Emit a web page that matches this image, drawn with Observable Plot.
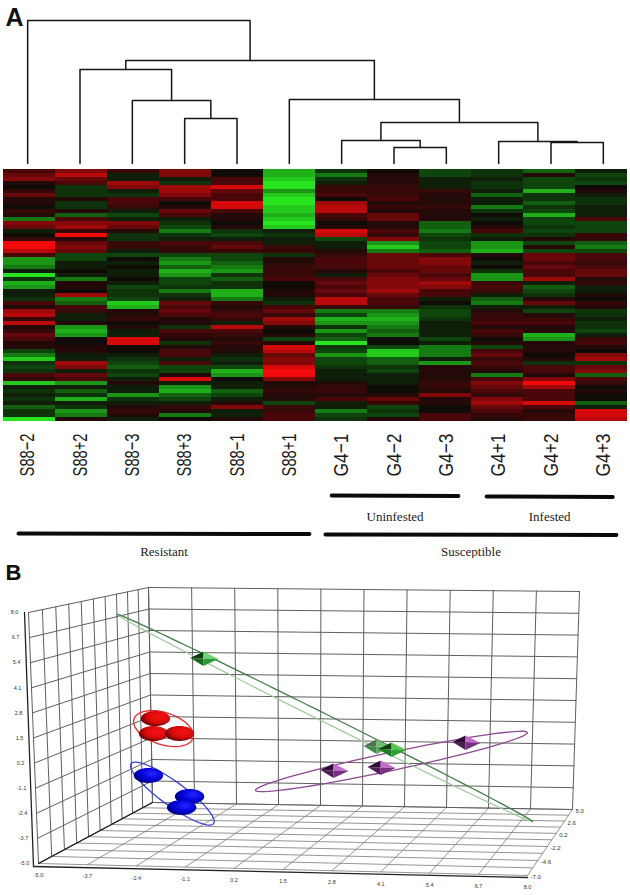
<!DOCTYPE html>
<html><head><meta charset="utf-8">
<script src="https://cdn.jsdelivr.net/npm/d3@7"></script>
<script src="https://cdn.jsdelivr.net/npm/@observablehq/plot@0.6"></script>
<style>html,body{margin:0;padding:0;background:#fff;overflow:hidden}svg{display:block}</style>
</head><body><div id="chart"></div>
<script>
// ---------- Panel A data ----------
const samples = ["S88−2","S88+2","S88−3","S88+3","S88−1","S88+1","G4−1","G4−2","G4−3","G4+1","G4+2","G4+3"];
// Dendrogram: a node number below 12 is a sample, 12 and above is an earlier merge
const mergeLeft   = [3, 2, 1, 7, 6, 10, 9, 16, 5, 14, 0];
const mergeRight  = [4, 12, 13, 8, 15, 11, 17, 18, 19, 20, 21];
const mergeHeight = [.315,.44,.657,.112,.161,.147,.154,.287,.448,.72,1];

// Heat map: 63 genes per sample, + red, − green
const S88m2=[3,4,5,1,0,2,4,1,1,0,2,1,-5,5,4,-1,0,2,9,9,7,3,-6,-6,-5,-1,-9,-2,-7,-6,-1,-1,-2,3,1,6,7,2,7,1,2,4,3,1,1,-3,-5,-8,-2,-3,-2,3,2,-8,-1,-2,-1,-2,-1,-4,-2,-2,-9];
const S88p2=[5,7,4,3,-2,-2,-2,1,-2,-2,1,-4,3,5,6,2,9,1,4,5,4,-3,-3,-1,-1,0,-1,-5,1,1,0,6,-5,-4,3,2,-1,-1,1,-6,-7,-6,0,0,1,1,-1,-1,6,5,-1,4,3,-6,-1,-4,-2,-7,-1,-2,-6,-5,1];
const S88m3=[2,-1,-1,6,5,-1,-2,3,3,2,-1,-3,-1,5,4,1,-2,-2,2,2,-1,-3,0,-1,0,-1,-1,0,-1,-3,-2,-2,-3,-8,-7,1,1,2,0,1,-1,-1,8,8,0,0,-1,-2,-3,-4,-2,-3,-1,1,-1,-1,-6,-2,-1,1,2,1,-1];
const S88p3=[5,5,-1,-2,6,6,5,3,0,1,4,3,-1,-2,-3,-5,-2,-1,3,2,2,-3,-5,-6,-4,-7,-6,-3,-3,-2,-5,-2,-1,4,3,4,3,1,1,-2,3,2,1,-2,1,3,3,-1,3,-3,-3,1,8,-1,-6,-7,-4,-3,-1,2,1,-5,0];
const S88m1=[0,0,3,3,8,4,3,3,8,8,3,1,1,0,1,-2,-3,-1,3,4,2,-3,-3,-4,-5,-6,-2,-4,-2,-2,-7,-7,-5,2,1,2,3,2,-1,7,3,2,1,2,1,1,-1,-2,-1,-3,-7,-6,0,-1,-1,-4,-3,-1,1,5,-1,-1,1];
const S88p1=[-7,-7,-8,-9,-9,-6,-8,-9,-9,-8,-8,-7,-8,-9,-8,-1,-2,-1,-1,2,2,-2,1,1,2,2,2,3,0,0,1,1,-1,-2,3,4,2,6,5,1,0,1,-3,1,8,7,4,5,5,8,9,9,5,1,1,2,1,1,-3,2,2,3,3];
const G4m1=[-2,-5,-2,-1,2,2,3,0,6,7,7,3,2,0,1,8,7,-3,-1,-1,1,2,3,3,3,1,-1,3,4,3,4,3,7,7,2,-5,-3,-7,-6,-2,-6,-3,-4,-9,-2,-3,-6,-3,-3,-2,-1,-1,-1,1,2,2,1,3,-1,-1,-5,-3,-2];
const G4m2=[0,1,1,1,2,2,2,3,1,2,1,4,4,1,1,3,2,5,-6,-8,-5,4,4,4,4,3,4,5,5,5,6,4,3,3,2,-5,-6,-7,-6,-5,-4,-5,0,0,-3,-8,-8,-4,-4,-2,-3,-1,-1,-1,0,0,1,4,2,-3,-2,-3,1];
const G4m3=[-3,-3,-1,-1,-1,2,1,1,1,2,1,1,1,-4,-4,-5,-3,-2,-3,-3,-4,3,5,5,4,4,3,4,6,5,3,3,-1,0,-2,-3,-3,-2,-1,-1,-1,-1,-3,-1,-5,-5,-5,-1,-6,1,1,1,1,2,2,1,5,1,1,0,0,3,3];
const G4p1=[-2,-2,-1,-2,-2,-1,-4,-1,-1,-5,-2,0,-1,0,1,3,-2,-1,-6,-6,-7,1,0,-1,0,-2,-6,-6,2,3,2,-1,-4,-5,-1,1,2,2,3,1,3,2,0,1,-3,3,4,2,3,2,1,-5,3,5,4,3,2,5,6,4,3,2,1];
const G4p2=[-4,1,-3,-3,-3,-7,-2,-2,-4,-2,-3,-7,-3,-3,-2,-3,-2,1,-3,1,-3,4,4,3,4,3,3,6,-1,-4,-3,-2,1,4,-1,-3,1,2,3,1,1,-7,-6,1,1,1,0,1,-2,3,3,1,5,9,6,3,3,3,8,3,1,2,2];
const G4p3=[-1,-3,-2,-3,0,1,-1,-2,-2,-1,-1,-1,3,-3,-3,-3,2,2,-4,-5,-3,3,3,2,3,4,4,1,2,-1,-1,1,0,2,1,-2,-2,-1,-2,-2,-3,-1,2,3,1,0,5,6,-2,4,5,-4,3,2,0,1,0,0,-4,-1,8,8,7];
const heatColumns = [S88m2,S88p2,S88m3,S88p3,S88m1,S88p1,G4m1,G4m2,G4m3,G4p1,G4p2,G4p3];

// Annotation bars, in sample positions
const groupNames = ["Uninfested","Infested","Resistant","Susceptible"];
const groupFrom  = [6.31,9.27,0.325,6.19];
const groupTo    = [8.73,11.68,5.885,11.75];

// ---------- Panel B data ----------
const xTicks = ["-5.0","-3.7","-2.4","-1.1","0.2","1.5","2.8","4.1","5.4","6.7","8.0"];
const zTicks = xTicks;
const depthTicks = ["-7.0","-5.8","-4.6","-3.4","-2.2","-1.0","0.2","1.4","2.6","3.8","5.0"];
// Points and group ellipses, read against the grid of the back wall
const sphereGroup = ["red","red","red","blue","blue","blue"];
const sphereX = [-4.86,-4.93,-4.13,-5.11,-3.85,-4.10];
const sphereZ = [0.08,-0.83,-0.80,-3.37,-4.60,-5.27];
const pyramidGroup = ["green","faded","bright","purple","purple","purple"];
const pyramidX = [-3.34,1.95,2.41,4.68,2.08,0.63];
const pyramidZ = [3.74,-1.42,-1.58,-1.10,-2.67,-2.89];
const ringName = ["red","blue","purple","green"];
const ringX = [-4.62,-4.38,2.38,0.33];
const ringZ = [-0.52,-4.44,-2.30,0.25];

// ---------- Panel A: dendrogram ----------
const W = 630, sampleDomain = [0,12];
const nodeX = new Map(samples.map((_,i)=>[i,i+.5]));
const nodeH = new Map(samples.map((_,i)=>[i,0]));
const treeLines = [];
mergeLeft.forEach((l,i)=>{
  const r = mergeRight[i], h = mergeHeight[i], id = 12+i;
  treeLines.push({id,x:nodeX.get(l),h:nodeH.get(l)},{id,x:nodeX.get(l),h},{id,x:nodeX.get(r),h},{id,x:nodeX.get(r),h:nodeH.get(r)});
  nodeX.set(id,(nodeX.get(l)+nodeX.get(r))/2); nodeH.set(id,h);
});
const tree = Plot.plot({
  width:W,height:168,marginLeft:1,marginRight:1,marginTop:20,marginBottom:5,
  style:{fontFamily:"Liberation Sans",background:"#fff"},
  x:{domain:sampleDomain,axis:null},y:{domain:[0,1],axis:null},
  marks:[
    Plot.line(treeLines,{x:"x",y:"h",z:"id",stroke:"#151515",strokeWidth:1.5,curve:"linear"}),
    Plot.text(["A"],{frameAnchor:"top-left",dx:4,dy:-12,lineAnchor:"top",fontSize:25,fontWeight:"bold",fill:"#111"})
  ]
});

// ---------- Panel A: heat map ----------
const heatCells = heatColumns.flatMap((col,j)=>col.map((value,row)=>({sample:samples[j],row,value})));
const heat = Plot.plot({
  width:W,height:253,marginLeft:1,marginRight:1,marginTop:0,marginBottom:0,
  style:{background:"#fff"},
  x:{domain:samples,padding:0,axis:null},
  y:{domain:d3.range(63),padding:0,axis:null},
  color:{type:"linear",domain:[-9,-3,0,3,9],range:["#27e41f","#0e450c","#0f0b07","#4a0709","#f20a0a"]},
  marks:[Plot.cell(heatCells,{x:"sample",y:"row",fill:"value",shapeRendering:"crispEdges"})]
});

// ---------- Panel A: labels and group bars ----------
const groupBarY = [495,496,533,534];
const groupTextY = [516,516,551,551];
const groupBars = groupNames.flatMap((g,i)=>[{g,x:groupFrom[i],y:groupBarY[i]},{g,x:groupTo[i],y:groupBarY[i]+.5}]);
const groupLabels = groupNames.map((g,i)=>({g,x:(groupFrom[i]+groupTo[i])/2,y:groupTextY[i]}));
const labels = Plot.plot({
  width:W,height:137,marginLeft:1,marginRight:1,marginTop:0,marginBottom:0,
  style:{fontFamily:"Liberation Sans",background:"#fff"},
  x:{domain:sampleDomain,axis:null},y:{domain:[421,558],range:[0,137],axis:null},
  marks:[
    Plot.text(samples,{x:(_,i)=>i+.5,y:()=>433,text:d=>d,rotate:-90,textAnchor:"end",fontSize:21,fill:"#1a1a1a"}),
    Plot.line(groupBars,{x:"x",y:"y",z:"g",stroke:"#0a0a0a",strokeWidth:4,strokeLinecap:"round"}),
    Plot.text(groupLabels,{x:"x",y:"y",text:"g",fontFamily:"Liberation Serif",fontSize:13,fill:"#222"})
  ]
});
d3.select(labels).selectAll("text").each(function(){
  const t=this.textContent;
  if(/^(S88|G4)/.test(t)){
    const a=this.getAttribute("transform")||"";
    this.setAttribute("transform",a+` scale(${t.startsWith("S88")?.7:.83},1)`);
  }
});

// ---------- Panel B: 3-D box seen in perspective ----------
const corner = {
  flb:[38,863],frb:[527,875],blb:[152,802],brb:[572,809],
  flt:[28,612],frt:[547,621],blt:[148,587],brt:[579,591]
};
const persp = u => u/(u+(1-u)*.85);
function project(xv,dv,zv){
  const a=(xv+5)/13, u=persp((dv+7)/12), c=(zv+5)/13;
  const mix=(i)=>{
    const f=(p,q)=>p[i]*(1-a)+q[i]*a;
    const front=f(corner.flb,corner.frb)*(1-c)+f(corner.flt,corner.frt)*c;
    const back=f(corner.blb,corner.brb)*(1-c)+f(corner.blt,corner.brt)*c;
    return front*(1-u)+back*u;
  };
  return [mix(0),mix(1)];
}
const seg=(id,p,q,kind)=>[{id,kind,x:p[0],y:p[1]},{id,kind,x:q[0],y:q[1]}];
const xN=xTicks.map(Number), zN=zTicks.map(Number), dN=depthTicks.map(Number);
const grid=[]; let gid=0;
xN.forEach(x=>{
  grid.push(...seg(gid++,project(x,5,-5),project(x,5,8),"wall"));
  grid.push(...seg(gid++,project(x,-7,-5),project(x,5,-5),"floor"));
});
zN.forEach(z=>{
  grid.push(...seg(gid++,project(-5,5,z),project(8,5,z),"wall"));
  grid.push(...seg(gid++,project(-5,-7,z),project(-5,5,z),"wall"));
});
dN.forEach(d=>{
  grid.push(...seg(gid++,project(-5,d,-5),project(-5,d,8),"wall"));
  grid.push(...seg(gid++,project(-5,d,-5),project(8,d,-5),"floor"));
});
const onWall=(x,z)=>project(x,5,z);

function outline(cx,cy,a,b,deg,from=0,to=2*Math.PI,n=72){
  const th=deg*Math.PI/180, pts=[];
  for(let i=0;i<=n;i++){
    const t=from+(to-from)*i/n;
    pts.push({x:cx+a*Math.cos(t)*Math.cos(th)-b*Math.sin(t)*Math.sin(th),
              y:cy+a*Math.cos(t)*Math.sin(th)+b*Math.sin(t)*Math.cos(th)});
  }
  return pts;
}
const ringStyle={red:[31,16,18,"#e8262a"],blue:[51,12,36,"#3a3fd0"],purple:[139,9,-12,"#8c4a92"],green:[232,4,26.5,"#3f7d45"]};
const rings=[];
ringName.forEach((name,i)=>{
  const [cx,cy]=onWall(ringX[i],ringZ[i]);
  const [a,b,deg,color]=ringStyle[name];
  if(name==="green"){
    outline(cx,cy,a,b,deg,0,Math.PI).forEach(p=>rings.push({...p,id:"gl",color:"#a3cba3"}));
    outline(cx,cy,a,b,deg,Math.PI,2*Math.PI).forEach(p=>rings.push({...p,id:"gd",color}));
  } else outline(cx,cy,a,b,deg).forEach(p=>rings.push({...p,id:name,color}));
});
const spheres=sphereX.flatMap((x,i)=>{
  const [cx,cy]=onWall(x,sphereZ[i]);
  return outline(cx,cy,14.7,7.5,0).map(p=>({...p,id:i,g:sphereGroup[i]}));
});
const facetColors={
  green:["#123c14","#6fd56f","#1e6a22","#2f9a35"],
  faded:["#4f6f50","#70bb70","#3f8a45","#5aa860"],
  bright:["#0f3f12","#52c852","#1e7a25","#2ea336"],
  purple:["#2a0f2e","#c66ad0","#4d1d55","#77307f"]
};
const facets=[];
pyramidX.forEach((x,i)=>{
  const [cx,cy]=onWall(x,pyramidZ[i]);
  const c=facetColors[pyramidGroup[i]];
  const L=[cx-14,cy-.5],R=[cx+14,cy+.5],T=[cx-1,cy-7],B=[cx-1,cy+7.5],A=[cx-1,cy];
  [[L,T,A],[T,R,A],[L,B,A],[R,B,A]].forEach((tri,k)=>tri.forEach(p=>
    facets.push({id:i+"-"+k,x:p[0],y:p[1],fill:c[k]})));
});
const axisLines=[
  ...seg("zaxis",[24,612],[33,866],"a"),
  ...seg("xaxis",[33,866],[527,877],"a"),
  ...seg("edge",project(-5,-7,-5),project(-5,5,-5),"a")
];
const gradDefs=()=>{
  const ns="http://www.w3.org/2000/svg";
  const defs=document.createElementNS(ns,"defs");
  [["gradRed",["#f41414","#d90a0a","#3c0303"]],["gradBlue",["#2626ff","#0000d6","#00005a"]]].forEach(([id,c])=>{
    const g=document.createElementNS(ns,"radialGradient");
    g.setAttribute("id",id);g.setAttribute("cx",".62");g.setAttribute("cy",".38");g.setAttribute("r",".72");
    [0,.55,1].forEach((o,i)=>{const s=document.createElementNS(ns,"stop");s.setAttribute("offset",o);s.setAttribute("stop-color",c[i]);g.appendChild(s);});
    defs.appendChild(g);
  });
  return defs;
};
const pca = Plot.plot({
  width:W,height:337,margin:0,
  style:{fontFamily:"Liberation Sans",background:"#fff"},
  x:{domain:[0,W],range:[0,W],axis:null},y:{domain:[558,895],range:[0,337],axis:null},
  color:{type:"identity"},
  marks:[
    gradDefs,
    Plot.line(grid.filter(d=>d.kind==="floor"),{x:"x",y:"y",z:"id",stroke:"#7a7a7a",strokeWidth:.8}),
    Plot.line(grid.filter(d=>d.kind==="wall"),{x:"x",y:"y",z:"id",stroke:"#5f5f5f",strokeWidth:1}),
    Plot.line(axisLines,{x:"x",y:"y",z:"id",stroke:"#222",strokeWidth:1.3}),
    Plot.line(rings,{x:"x",y:"y",z:"id",stroke:"color",strokeWidth:1.3}),
    Plot.line(spheres,{x:"x",y:"y",z:"id",stroke:"none",fill:d=>d.g==="red"?"url(#gradRed)":"url(#gradBlue)"}),
    Plot.line(facets,{x:"x",y:"y",z:"id",stroke:"none",fill:"fill"}),
    Plot.text(zTicks,{x:d=>project(-5,-7,+d)[0]-14,y:d=>project(-5,-7,+d)[1],text:d=>d,fontSize:5.5,fill:"#333"}),
    Plot.text(xTicks,{x:d=>project(+d,-7,-5)[0],y:d=>project(+d,-7,-5)[1]+12,text:d=>d,fontSize:5.5,fill:"#333"}),
    Plot.text(depthTicks.filter((_,i)=>i%2===0),{x:d=>project(8,+d,-5)[0]+3,y:d=>project(8,+d,-5)[1]+2,text:d=>d,textAnchor:"start",fontSize:6,fill:"#333"}),
    Plot.text(["B"],{frameAnchor:"top-left",dx:5,dy:6,lineAnchor:"top",fontSize:22,fontWeight:"bold",fill:"#111"})
  ]
});

const root=document.getElementById("chart");
[tree,heat,labels,pca].forEach(n=>root.appendChild(n));
</script></body></html>
